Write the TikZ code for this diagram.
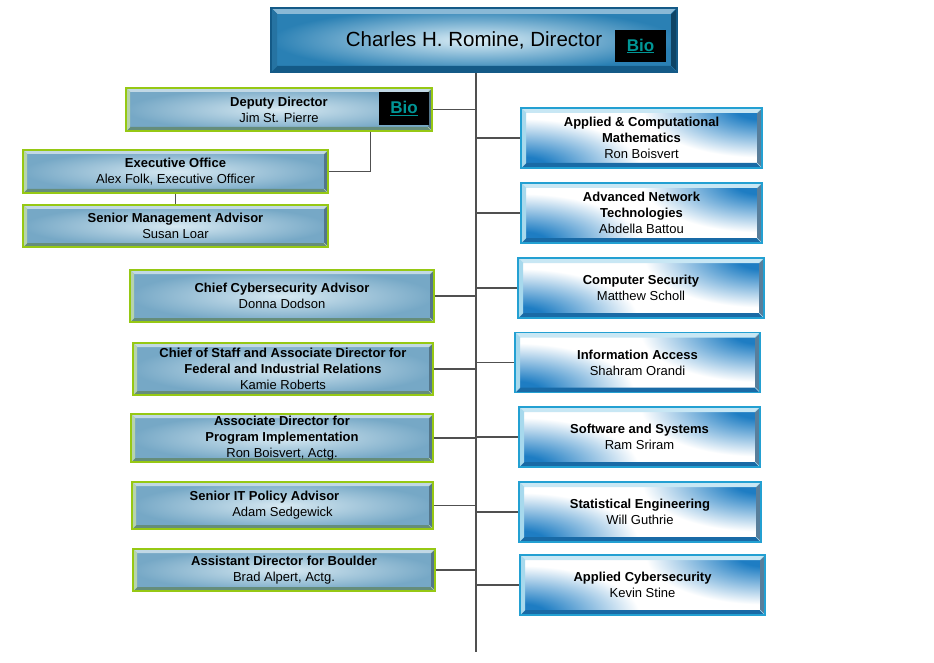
\documentclass[tikz,border=0pt]{standalone}
\usepackage{fontspec}
\setmainfont{Liberation Sans}
\usepackage{xcolor}
\usetikzlibrary{calc}
\definecolor{lgreen}{RGB}{150,200,20}
\definecolor{lsteel}{RGB}{118,168,198}
\definecolor{lglow}{RGB}{215,233,242}
\definecolor{rcyan}{RGB}{35,160,210}
\definecolor{rblue}{RGB}{30,125,195}
\definecolor{dnavy}{RGB}{20,90,135}
\definecolor{dblue}{RGB}{42,128,180}
\definecolor{dglow}{RGB}{220,238,246}
\definecolor{biotxt}{RGB}{0,150,150}
\definecolor{linegray}{RGB}{80,80,80}
\pgfdeclareradialshading{cglow}{\pgfpoint{0bp}{0bp}}{color(0bp)=(rblue); color(3bp)=(rblue); color(13bp)=(white); color(50bp)=(white)}
\newcommand{\bevelbands}[5]{%
  \coordinate (pa) at (path picture bounding box.north west);
  \coordinate (pb) at (path picture bounding box.north east);
  \coordinate (pc) at (path picture bounding box.south east);
  \coordinate (pd) at (path picture bounding box.south west);
  \coordinate (qa) at ($(pa)+(#1,-#1)$);
  \coordinate (qb) at ($(pb)+(-#1,-#1)$);
  \coordinate (qc) at ($(pc)+(-#1,#1)$);
  \coordinate (qd) at ($(pd)+(#1,#1)$);
  \fill[#2] (pa) -- (pb) -- (qb) -- (qa) -- cycle;
  \fill[#3] (pa) -- (pd) -- (qd) -- (qa) -- cycle;
  \fill[#4] (pd) -- (pc) -- (qc) -- (qd) -- cycle;
  \fill[#5] (pb) -- (pc) -- (qc) -- (qb) -- cycle;
  \draw[#3, line width=0.4pt] (pa) -- (qa) (pd) -- (qd) (pb) -- (qb) (pc) -- (qc);}
\newcommand{\cornerglow}{%
  \begin{scope}
    \clip (path picture bounding box.north west) -- (path picture bounding box.south west) -- (path picture bounding box.south east) -- cycle;
    \shade[shading=cglow] (path picture bounding box.south west) ellipse [x radius=230pt, y radius=95pt];
  \end{scope}
  \begin{scope}
    \clip (path picture bounding box.north west) -- (path picture bounding box.north east) -- (path picture bounding box.south east) -- cycle;
    \shade[shading=cglow] (path picture bounding box.north east) ellipse [x radius=230pt, y radius=95pt];
  \end{scope}}

\begin{document}
\begin{tikzpicture}[
  x=1pt, y=-1pt,
  lbox/.style={draw=lgreen, line width=1.6pt, inner color=lglow, outer color=lsteel,
    path picture={\bevelbands{4pt}{lsteel!45!white}{lsteel!55!lgreen!60!white}{lsteel!75!lgreen!80!black}{lsteel!70!black}},
    align=center, inner sep=0pt, font=\fontsize{13}{16}\selectfont},
  rbox/.style={draw=rcyan, line width=1.4pt, fill=white,
    path picture={\cornerglow\bevelbands{5pt}{rcyan!25!white}{rcyan!40!white}{rblue!85!black}{gray!60!rblue}},
    align=center, inner sep=0pt, minimum height=60pt, font=\fontsize{13}{16}\selectfont},
  dbox/.style={draw=dnavy, line width=1.6pt, inner color=dglow, outer color=dblue,
    path picture={\bevelbands{6pt}{dblue!55!white}{dblue!90!black}{dnavy}{dnavy!75!black}},
    inner sep=0pt, font=\fontsize{20.5}{24}\selectfont},
  bio/.style={fill=black, inner sep=0pt, text=biotxt, font=\fontsize{17}{20}\selectfont\bfseries},
  conn/.style={draw=linegray, line width=1.2pt}
]
  \useasboundingbox (0,0) rectangle (934,663);

  % Director
  \node[dbox, minimum width=406pt, minimum height=64pt] (dir) at (474,40) {Charles H. Romine, Director};
  \node[bio, minimum width=51pt, minimum height=32pt] (dirbio) at (640.5,46) {\underline{Bio}};
  \coordinate (trunk) at (476,652);

  % Left boxes
  \foreach \nm/\cx/\cy/\w/\h/\txt in {
    dep/279/109.5/306/43/{\textbf{Deputy Director}\\Jim St. Pierre},
    exec/175.5/171.5/305/43/{\textbf{Executive Office}\\Alex Folk, Executive Officer},
    sma/175.5/226/305/42/{\textbf{Senior Management Advisor}\\Susan Loar},
    cca/282/296/304/52/{\textbf{Chief Cybersecurity Advisor}\\Donna Dodson},
    cos/283/369/300/52/{\textbf{Chief of Staff and Associate Director for}\\\textbf{Federal and Industrial Relations}\\Kamie Roberts},
    adpi/282/438/302/48/{\textbf{Associate Director for}\\\textbf{Program Implementation}\\Ron Boisvert, Actg.},
    sitpa/282.5/505.5/301/47/{\textbf{Senior IT Policy Advisor}\hspace*{36pt}\\Adam Sedgewick},
    adb/284/570/302/42/{\textbf{Assistant Director for Boulder}\\Brad Alpert, Actg.}} {
    \node[lbox, minimum width=\w pt, minimum height=\h pt] (\nm) at (\cx,\cy) {\txt};
  }
  \node[bio, minimum width=50pt, minimum height=33pt] (depbio) at (404,108.5) {\underline{Bio}};

  % Right boxes
  \foreach \nm/\cx/\cy/\w/\txt in {
    acm/641.5/138/241/{\textbf{Applied \& Computational}\\\textbf{Mathematics}\\Ron Boisvert},
    ant/641.5/213/241/{\textbf{Advanced Network}\\\textbf{Technologies}\\Abdella Battou},
    cs/641/288/246/{\textbf{Computer Security}\\Matthew Scholl},
    ia/637.5/362.5/245/{\textbf{Information Access}\\Shahram Orandi},
    ss/639.5/437/241/{\textbf{Software and Systems}\\Ram Sriram},
    se/640/512/242/{\textbf{Statistical Engineering}\\Will Guthrie},
    ac/642.5/585/245/{\textbf{Applied Cybersecurity}\\Kevin Stine}} {
    \node[rbox, minimum width=\w pt] (\nm) at (\cx,\cy) {\txt};
  }

  % Connectors
  \draw[conn] (dir.south -| trunk) -- (trunk);
  \foreach \nm in {dep,cca,cos,adpi,sitpa,adb} {
    \draw[conn] (\nm.east) -- (\nm.east -| trunk);
  }
  \foreach \nm in {acm,ant,cs,ia,ss,se,ac} {
    \draw[conn] (\nm.west -| trunk) -- (\nm.west);
  }
  \draw[conn] ($(dep.south west)+(245pt,0)$) |- (exec.east);
  \draw[conn] (exec.south) -- (sma.north);
\end{tikzpicture}
\end{document}
